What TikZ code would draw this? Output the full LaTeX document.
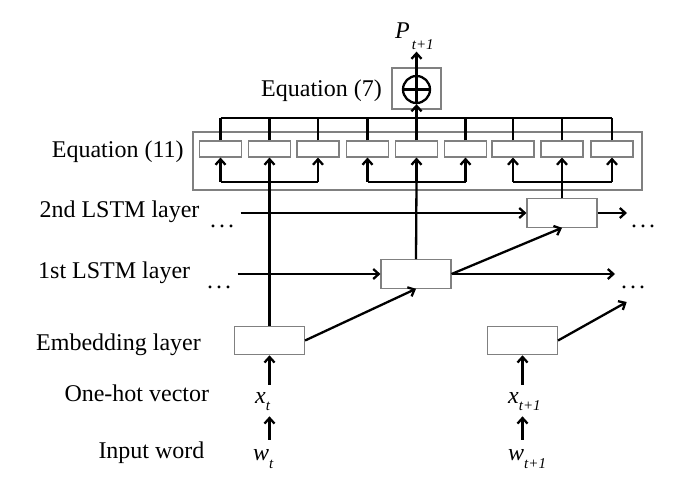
\documentclass[tikz,border=0pt]{standalone}
\usepackage{fontspec}
\setmainfont{Liberation Serif}
\usetikzlibrary{arrows.meta}
\tikzset{
  lab/.style={inner sep=0pt, font=\fontsize{24}{28}\selectfont},
  box/.style={draw=black!50, line width=1.1pt, inner sep=0pt},
  small/.style={box, minimum width=42pt, minimum height=16pt},
  cell/.style={box, minimum width=70pt, minimum height=28.5pt},
  conn/.style={line width=2.3pt, black},
  arr/.style={conn, -{Straight Barb[length=5.5pt,width=10pt]}},
}
\newcommand{\sbs}[2]{\raisebox{-#1}{\fontsize{15}{16}\selectfont\textit{#2}}}
\begin{document}
\begin{tikzpicture}[x=1pt,y=-1pt]
\useasboundingbox[fill=white] (0,0) rectangle (700,499);

% labels on the left
\node[lab, anchor=base west] (l11) at (51.7,157.3) {Equation (11)};
\node[lab, anchor=base west] (l2) at (39.3,217.3) {2nd LSTM layer};
\node[lab, anchor=base west] (l1) at (38,278) {1st LSTM layer};
\node[lab, anchor=base west] (le) at (36,350) {Embedding layer};
\node[lab, anchor=base west] (lo) at (64.3,401) {One-hot vector};
\node[lab, anchor=base west] (li) at (98.3,458) {Input word};
\node[lab, anchor=base west] (l7) at (261,96.7) {Equation (7)};

% Equation (11) block
\node[box, minimum width=449pt, minimum height=58pt] (outer) at (417.5,161) {};
\foreach \i/\x in {1/220.5,2/269.5,3/318,4/367.5,5/416.5,6/465.5,7/513,8/562,9/612}
  \node[small] (s\i) at (\x,149) {};

% Equation (7)
\node[box, minimum width=49pt, minimum height=41pt] (eq7) at (416.5,88.5) {};
\node[circle, draw, line width=2.3pt, minimum size=27pt, inner sep=0pt] (circ) at (416.5,89.5) {};
\draw[conn] (circ.north) -- (circ.south);
\draw[conn] (circ.west) -- (circ.east);
\node[lab, anchor=base west] (P) at (395,38.3) {\textit{P}\kern2pt\sbs{11pt}{t+1}};

% layers
\node[cell] (lstm2) at (562,213) {};
\node[cell] (lstm1) at (416,274) {};
\node[cell] (emb1) at (269.5,340.5) {};
\node[cell] (emb2) at (522.5,340.5) {};

% inputs
\node[lab, anchor=base west] (xt) at (255,403) {\textit{x}\sbs{7pt}{t}};
\node[lab, anchor=base west] (wt) at (253,460) {\textit{w}\sbs{8pt}{t}};
\node[lab, anchor=base west] (xt1) at (508,403) {\textit{x}\sbs{7pt}{t+1}};
\node[lab, anchor=base west] (wt1) at (508,460) {\textit{w}\sbs{8pt}{t+1}};

% dots
\node[lab, anchor=base west] (d2l) at (210,227) {.\kern3pt.\kern3pt.};
\node[lab, anchor=base west] (d1l) at (207,288.5) {.\kern3pt.\kern3pt.};
\node[lab, anchor=base west] (d2r) at (631,227) {.\kern3pt.\kern3pt.};
\node[lab, anchor=base west] (d1r) at (621,288.5) {.\kern3pt.\kern3pt.};

% free ends
\coordinate (bus) at (416.5,118);
\coordinate (g1) at (269.5,181.7);
\coordinate (g2) at (416.5,181.7);
\coordinate (g3) at (562,181.7);
\coordinate (in2) at (240.7,213);
\coordinate (out2) at (627,213);
\coordinate (in1) at (237.7,274);
\coordinate (out1) at (615,274);
\coordinate (out3) at (626.7,302);

% top bus
\draw[conn] (s1.north |- bus) -- (s9.north |- bus);
\foreach \i in {1,...,9} \draw[conn] (s\i.north) -- (s\i.north |- bus);
\draw[arr] (bus) -- (circ.south);
\draw[arr] (circ.north) -- ([yshift=-2pt]P.south -| circ.north);

% brackets
\draw[conn] (s1.south |- g1) -- (s3.south |- g1);
\draw[conn] (s4.south |- g2) -- (s6.south |- g2);
\draw[conn] (s7.south |- g3) -- (s9.south |- g3);
\foreach \i/\g in {1/g1,2/g1,3/g1,4/g2,5/g2,6/g2,7/g3,8/g3,9/g3}
  \draw[arr] (s\i.south |- \g) -- (s\i.south);
\draw[conn] (emb1.north) -- (g1);
\draw[conn] (lstm1.north) -- (g2);
\draw[conn] (lstm2.north) -- (g3);

% recurrent connections
\draw[arr] (in2) -- (lstm2.west);
\draw[arr] (lstm2.east) -- (out2);
\draw[arr] (in1) -- (lstm1.west);
\draw[arr] (lstm1.east) -- (out1);
\draw[arr] (lstm1.east) -- (lstm2.south);
\draw[arr] (emb1.east) -- (lstm1.south);
\draw[arr] (emb2.east) -- (out3);

% input arrows
\draw[arr] ([yshift=7pt]xt.north -| emb1.south) -- (emb1.south);
\draw[arr] ([yshift=9pt]wt.north -| emb1.south) -- ([yshift=-6pt]xt.south -| emb1.south);
\draw[arr] ([yshift=7pt]xt1.north -| emb2.south) -- (emb2.south);
\draw[arr] ([yshift=9pt]wt1.north -| emb2.south) -- ([yshift=-6pt]xt1.south -| emb2.south);
\end{tikzpicture}
\end{document}
